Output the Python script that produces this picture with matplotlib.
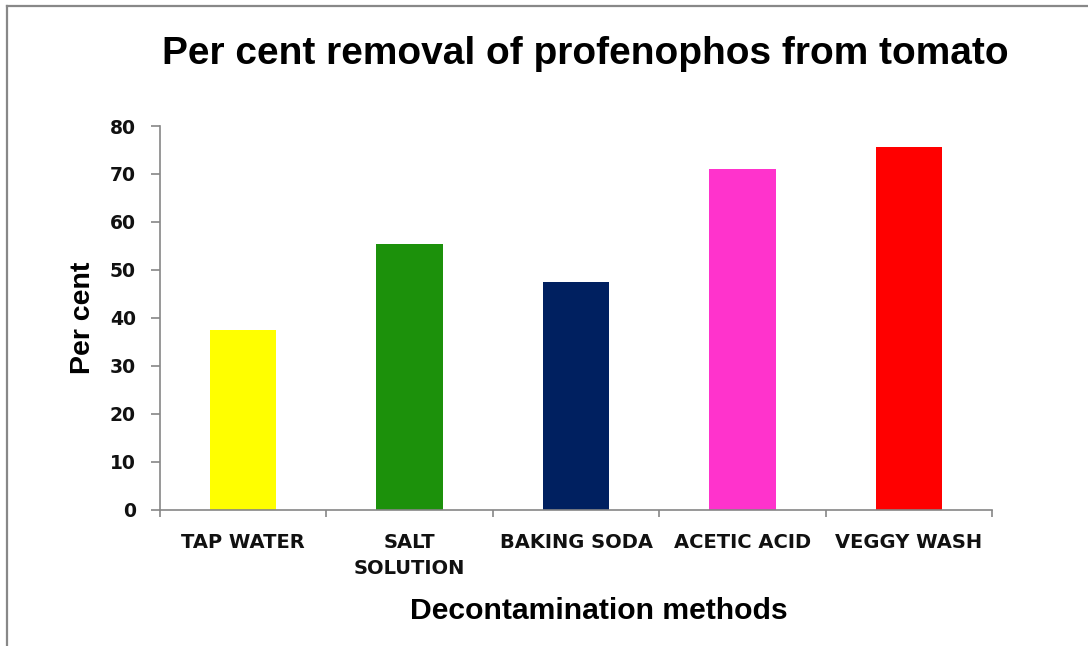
import matplotlib
matplotlib.use("Agg")
import matplotlib.pyplot as plt
from matplotlib.lines import Line2D

categories = ["TAP WATER", "SALT\nSOLUTION", "BAKING SODA", "ACETIC ACID", "VEGGY WASH"]
values = [37.4, 55.3, 47.4, 71.1, 75.7]
colors = ["#FFFF00", "#1C910B", "#002060", "#FF33CC", "#FF0000"]
yticks = [0, 10, 20, 30, 40, 50, 60, 70, 80]

title = "Per cent removal of profenophos from tomato"
xlabel = "Decontamination methods"
ylabel = "Per cent"

head_font = "Liberation Sans"
tick_font = "DejaVu Sans"

W, H = 1088, 646
fig = plt.figure(figsize=(W / 100, H / 100), dpi=100)
ax = fig.add_axes([160 / W, 1 - 509.5 / H, (992 - 160) / W, (509.5 - 126) / H])

x = list(range(len(categories)))
ax.bar(x, values, width=0.4, color=colors, edgecolor="none", zorder=2)

ax.set_xlim(-0.5, len(categories) - 0.5)
ax.set_ylim(0, 80)
ax.set_yticks(yticks)

for s in ["top", "right"]:
    ax.spines[s].set_visible(False)
for s in ["left", "bottom"]:
    ax.spines[s].set_color("#868686")
    ax.spines[s].set_linewidth(1.2)

ax.tick_params(axis="y", direction="out", length=6.5, width=1.2, color="#868686", pad=11)
ax.set_xticks(x)
ax.set_xticklabels(categories, linespacing=1.45)
ax.tick_params(axis="x", which="major", length=0, pad=17)
ax.set_xticks([i - 0.5 for i in range(len(categories) + 1)], minor=True)
ax.tick_params(axis="x", which="minor", direction="out", length=5, width=1.2, color="#868686")

for lab in ax.get_xticklabels():
    lab.set_fontfamily(tick_font)
    lab.set_fontweight("bold")
    lab.set_fontsize(14)
    lab.set_color("#111111")
for lab in ax.get_yticklabels():
    lab.set_fontfamily(tick_font)
    lab.set_fontweight("bold")
    lab.set_fontsize(13.5)
    lab.set_color("#111111")

fig.text(585 / W, 1 - 64 / H, title, ha="center", va="baseline",
         fontsize=28, fontweight="bold", family=head_font)
fig.text(599 / W, 1 - 619 / H, xlabel, ha="center", va="baseline",
         fontsize=21.7, fontweight="bold", family=head_font)
fig.text(83 / W, 1 - 318 / H, ylabel, ha="center", va="center", rotation=90,
         fontsize=20.5, fontweight="bold", family=head_font)

# outer frame (top and left edges visible)
fig.add_artist(Line2D([6.5 / W, 6.5 / W], [0, 1 - 6 / H], transform=fig.transFigure,
                      color="#888888", linewidth=1.6))
fig.add_artist(Line2D([6.5 / W, 1], [1 - 6 / H, 1 - 6 / H], transform=fig.transFigure,
                      color="#888888", linewidth=1.6))

fig.savefig("out.png", dpi=100, facecolor="white")
